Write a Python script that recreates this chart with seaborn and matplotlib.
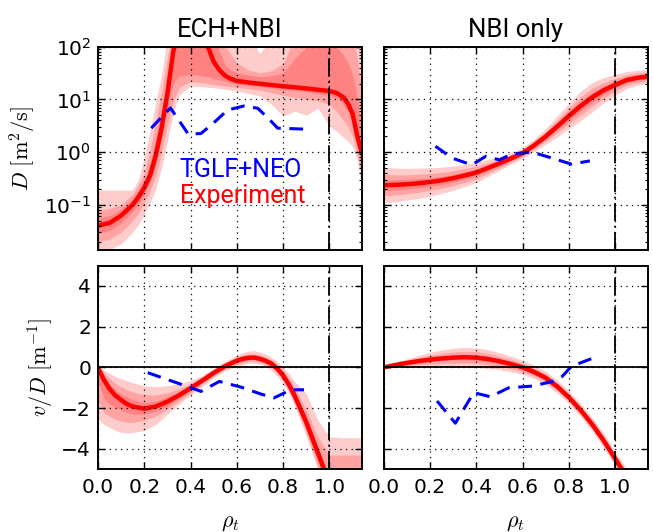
import numpy as np
import seaborn as sns
import matplotlib
matplotlib.use("Agg")
import matplotlib.pyplot as plt

# -----------------------------
# Data
# -----------------------------
sep_rho = 1.0

# ECH+NBI, diffusion (top left)
rho_ech = [0, 0.05, 0.1, 0.15, 0.175, 0.2, 0.225, 0.25, 0.275, 0.3, 0.325, 0.35,
           0.4, 0.45, 0.475, 0.5, 0.525, 0.55, 0.575, 0.6, 0.65, 0.7, 0.75, 0.8,
           0.85, 0.9, 0.95, 1.0, 1.03, 1.06, 1.08, 1.1, 1.12, 1.14]
D_ech = [0.040, 0.045, 0.062, 0.10, 0.14, 0.21, 0.36, 0.87, 2.9, 13, 79, 250,
         500, 250, 100, 52, 36, 28, 24.5, 22.5, 21, 19.8, 18.8, 17.8,
         17, 16.2, 15.3, 14.5, 13.3, 11, 8.3, 5.3, 2.0, 0.95]
D_ech_lo3 = [0.012, 0.014, 0.018, 0.03, 0.042, 0.066, 0.11, 0.2, 0.5, 1.6, 5.5, 12,
             18, 17.5, 17, 16.7, 16.2, 15.5, 15, 14.5, 13, 11.6, 8, 4.8,
             6, 5, 6.8, 3.1, 2.5, 1.9, 1.6, 1.27, 0.7, 0.21]
D_ech_lo2 = [0.020, 0.022, 0.03, 0.05, 0.07, 0.11, 0.18, 0.35, 1.0, 3.2, 9, 17,
             22, 21, 20, 19, 18.5, 18, 17.5, 17, 16, 15, 13.5, 12,
             11, 10, 9.5, 8, 6, 4, 3, 2, 0.9, 0.35]
D_ech_lo1 = [0.029, 0.032, 0.045, 0.075, 0.105, 0.16, 0.27, 0.6, 1.9, 7, 20, 28,
             30, 28, 27, 25, 23.5, 22, 20.5, 19.5, 18.5, 17.5, 16.5, 15.5,
             15, 14, 13, 12, 10.5, 8, 6, 3.5, 1.3, 0.6]
D_ech_hi1 = [0.055, 0.062, 0.082, 0.13, 0.19, 0.3, 0.6, 1.8, 6, 30, 150, 500,
             900, 600, 300, 150, 80, 45, 36, 32, 29, 27, 28, 32,
             60, 100, 130, 120, 100, 70, 50, 30, 10, 3]
D_ech_hi2 = [0.077, 0.085, 0.10, 0.16, 0.24, 0.4, 1.1, 4, 14, 60, 250, 800,
             1000, 1000, 800, 300, 150, 100, 70, 50, 36, 32, 35, 48,
             150, 200, 300, 300, 280, 230, 200, 150, 60, 15]
D_ech_hi3 = [0.19, 0.19, 0.19, 0.19, 0.3, 0.8, 2.5, 9, 30, 150, 1000, 1000,
             1000, 1000, 1000, 1000, 800, 500, 400, 300, 150, 75, 150, 300,
             500, 500, 500, 500, 500, 450, 400, 300, 200, 200]

rho_tglf_ech_D = [0.23, 0.313, 0.39, 0.445, 0.5, 0.56, 0.63, 0.69, 0.74, 0.776, 0.92]
D_tglf_ech = [2.85, 6.9, 2.2, 2.25, 3.6, 6.3, 7.5, 6.8, 4.2, 2.85, 2.7]

# common radial grid for the NBI panels
rho_b = [0, 0.025, 0.05, 0.1, 0.15, 0.2, 0.25, 0.3, 0.35, 0.4, 0.45, 0.5, 0.55,
         0.6, 0.65, 0.7, 0.75, 0.8, 0.85, 0.9, 0.95, 1.0, 1.05, 1.1, 1.14]

# NBI only, diffusion (top right); band half-widths in decades
D_nbi = [0.235, 0.236, 0.238, 0.245, 0.255, 0.27, 0.29, 0.32, 0.36, 0.41, 0.5, 0.61, 0.76,
         0.96, 1.35, 2.0, 3.1, 4.9, 7.5, 11, 15, 19, 23.5, 26, 27]
D_nbi_w3 = [0.33, 0.33, 0.32, 0.3, 0.29, 0.27, 0.25, 0.23, 0.21, 0.19, 0.16, 0.13, 0.11,
            0.1, 0.12, 0.15, 0.2, 0.24, 0.28, 0.28, 0.24, 0.2, 0.16, 0.14, 0.13]
D_nbi_w2 = [0.2, 0.2, 0.19, 0.18, 0.17, 0.16, 0.15, 0.14, 0.13, 0.12, 0.1, 0.08, 0.07,
            0.06, 0.07, 0.09, 0.12, 0.15, 0.17, 0.17, 0.15, 0.12, 0.1, 0.09, 0.08]
D_nbi_w1 = [0.1, 0.1, 0.1, 0.09, 0.09, 0.08, 0.08, 0.07, 0.07, 0.06, 0.05, 0.04, 0.04,
            0.03, 0.04, 0.05, 0.06, 0.08, 0.09, 0.09, 0.08, 0.06, 0.05, 0.05, 0.04]

rho_tglf_nbi_D = [0.223, 0.295, 0.38, 0.44, 0.5, 0.553, 0.64, 0.726, 0.81, 0.89]
D_tglf_nbi = [1.29, 0.77, 0.57, 0.83, 0.71, 0.92, 1.0, 0.77, 0.59, 0.68]

# ECH+NBI, v/D (bottom left)
rho_ech_v = [0, 0.01, 0.025, 0.05, 0.075, 0.1, 0.125, 0.15, 0.2, 0.25, 0.3, 0.35,
             0.4, 0.45, 0.5, 0.55, 0.6, 0.625, 0.65, 0.675, 0.7, 0.725, 0.75,
             0.775, 0.8, 0.825, 0.85, 0.9, 0.95, 1.0, 1.05, 1.1, 1.14]
vD_ech = [0, -0.25, -0.6, -1.05, -1.38, -1.6, -1.8, -1.92, -2.03, -1.92, -1.68, -1.37,
          -1.02, -0.65, -0.27, 0.07, 0.33, 0.42, 0.47, 0.48, 0.42, 0.32, 0.18,
          -0.07, -0.4, -0.85, -1.4, -2.7, -4.2, -5.7, -7, -8.2, -9]
vD_ech_lo3 = [-2.5, -2.65, -2.8, -2.95, -3.1, -3.2, -3.22, -3.2, -3.1, -2.8, -2.3, -1.8,
              -1.35, -0.95, -0.5, -0.15, 0.05, 0.13, 0.2, 0.2, 0.15, 0.05, -0.15,
              -0.45, -0.8, -1.3, -1.9, -3.4, -5.0, -6.5, -8, -9, -10]
vD_ech_hi3 = [0, -0.05, -0.12, -0.3, -0.45, -0.55, -0.65, -0.75, -0.9, -0.95, -0.9, -0.8,
              -0.65, -0.4, -0.05, 0.3, 0.6, 0.72, 0.8, 0.82, 0.75, 0.65, 0.5,
              0.28, 0.0, -0.3, -0.7, -1.3, -2.6, -3.4, -3.45, -3.45, -3.45]
vD_ech_lo2 = [-1.6, -1.9, -2.2, -2.4, -2.55, -2.65, -2.7, -2.7, -2.6, -2.4, -2.05, -1.65,
              -1.25, -0.82, -0.42, -0.08, 0.15, 0.23, 0.3, 0.3, 0.25, 0.14, -0.02,
              -0.3, -0.65, -1.15, -1.75, -3.2, -4.9, -6.4, -7.8, -8.8, -9.8]
vD_ech_hi2 = [0, -0.1, -0.25, -0.55, -0.78, -0.95, -1.1, -1.2, -1.35, -1.35, -1.25, -1.05,
              -0.8, -0.5, -0.12, 0.22, 0.5, 0.6, 0.66, 0.67, 0.62, 0.5, 0.37,
              0.13, -0.15, -0.55, -1.0, -2.1, -3.4, -4.3, -4.3, -4.3, -4.3]
vD_ech_lo1 = [-0.8, -1.0, -1.5, -1.8, -1.95, -2.1, -2.2, -2.3, -2.3, -2.15, -1.88, -1.52,
              -1.13, -0.73, -0.35, 0.0, 0.25, 0.33, 0.38, 0.39, 0.33, 0.23, 0.08,
              -0.17, -0.52, -1.0, -1.6, -3.0, -4.6, -6.1, -7.5, -8.7, -9.5]
vD_ech_hi1 = [0, -0.15, -0.4, -0.8, -1.1, -1.3, -1.45, -1.6, -1.75, -1.65, -1.45, -1.2,
              -0.9, -0.57, -0.2, 0.15, 0.42, 0.51, 0.57, 0.58, 0.52, 0.42, 0.28,
              0.03, -0.28, -0.7, -1.2, -2.4, -3.9, -5.3, -6.5, -7.7, -8.5]

rho_tglf_ech_v = [0.215, 0.417, 0.445, 0.524, 0.618, 0.704, 0.76, 0.833, 0.89]
vD_tglf_ech = [-0.26, -1.06, -1.18, -0.69, -0.97, -1.31, -1.5, -1.1, -1.1]

# NBI only, v/D (bottom right); band half-widths
vD_nbi = [0, 0.06, 0.12, 0.22, 0.31, 0.38, 0.44, 0.48, 0.5, 0.48, 0.41, 0.3, 0.16,
          0.0, -0.23, -0.52, -0.95, -1.48, -2.1, -2.8, -3.6, -4.5, -5.4, -6.3, -7.0]
vD_nbi_w3 = [0.02, 0.08, 0.12, 0.2, 0.28, 0.35, 0.42, 0.46, 0.48, 0.48, 0.46, 0.42, 0.38,
             0.35, 0.33, 0.32, 0.32, 0.32, 0.32, 0.33, 0.35, 0.37, 0.4, 0.42, 0.44]
vD_nbi_w2 = [0.01, 0.05, 0.07, 0.12, 0.17, 0.21, 0.25, 0.28, 0.29, 0.29, 0.28, 0.25, 0.23,
             0.21, 0.2, 0.19, 0.19, 0.19, 0.19, 0.2, 0.21, 0.22, 0.24, 0.25, 0.26]
vD_nbi_w1 = [0.0, 0.02, 0.03, 0.05, 0.07, 0.09, 0.11, 0.12, 0.13, 0.13, 0.12, 0.11, 0.1,
             0.09, 0.09, 0.08, 0.08, 0.08, 0.08, 0.09, 0.09, 0.1, 0.1, 0.11, 0.11]

rho_tglf_nbi_v = [0.23, 0.309, 0.388, 0.46, 0.54, 0.64, 0.726, 0.77, 0.81, 0.92]
vD_tglf_nbi = [-1.65, -2.74, -1.24, -1.44, -1.0, -0.92, -0.7, -0.45, 0.05, 0.53]

titles = ["ECH+NBI", "NBI only"]

# -----------------------------
# Style
# -----------------------------
sns.set_style("ticks")
plt.rcParams.update({
    "font.family": "DejaVu Sans",
    "mathtext.fontset": "cm",
    "text.color": "black",
    "axes.labelcolor": "black",
    "xtick.color": "black",
    "ytick.color": "black",
    "xtick.direction": "in",
    "ytick.direction": "in",
    "xtick.top": True,
    "ytick.right": True,
    "xtick.major.size": 5,
    "ytick.major.size": 5,
    "ytick.minor.size": 2.5,
    "xtick.major.width": 1,
    "ytick.major.width": 1,
    "ytick.minor.width": 0.8,
    "axes.linewidth": 1.4,
    "axes.edgecolor": "black",
    "xtick.labelsize": 14.5,
    "ytick.labelsize": 14.5,
    "xtick.major.pad": 6,
    "ytick.major.pad": 5,
})

fig, axes = plt.subplots(2, 2, figsize=(6.53, 5.32), dpi=100, sharex=True)
fig.subplots_adjust(left=0.150, right=0.992, top=0.912, bottom=0.118,
                    wspace=0.083, hspace=0.074)

band_kw = dict(color="red", alpha=0.2, lw=0)
line_kw = dict(color="red", lw=3.2)
tglf_kw = dict(color="blue", lw=2.2, dashes=(4.5, 2.8))


def draw_bands(ax, x, bands):
    for lo, hi in bands:
        ax.fill_between(x, lo, hi, **band_kw)


def log_band(vals, w):
    v = np.array(vals)
    return v * 10.0 ** (-np.array(w)), v * 10.0 ** np.array(w)


def lin_band(vals, w):
    v = np.array(vals)
    return v - np.array(w), v + np.array(w)


# top left
ax = axes[0, 0]
draw_bands(ax, rho_ech, [(D_ech_lo3, D_ech_hi3), (D_ech_lo2, D_ech_hi2), (D_ech_lo1, D_ech_hi1)])
sns.lineplot(x=rho_ech, y=D_ech, ax=ax, **line_kw)
sns.lineplot(x=rho_tglf_ech_D, y=D_tglf_ech, ax=ax, **tglf_kw)

# top right
ax = axes[0, 1]
draw_bands(ax, rho_b, [log_band(D_nbi, D_nbi_w3), log_band(D_nbi, D_nbi_w2), log_band(D_nbi, D_nbi_w1)])
sns.lineplot(x=rho_b, y=D_nbi, ax=ax, **line_kw)
sns.lineplot(x=rho_tglf_nbi_D, y=D_tglf_nbi, ax=ax, **tglf_kw)

# bottom left
ax = axes[1, 0]
draw_bands(ax, rho_ech_v, [(vD_ech_lo3, vD_ech_hi3), (vD_ech_lo2, vD_ech_hi2), (vD_ech_lo1, vD_ech_hi1)])
sns.lineplot(x=rho_ech_v, y=vD_ech, ax=ax, **line_kw)
sns.lineplot(x=rho_tglf_ech_v, y=vD_tglf_ech, ax=ax, **tglf_kw)

# bottom right
ax = axes[1, 1]
draw_bands(ax, rho_b, [lin_band(vD_nbi, vD_nbi_w3), lin_band(vD_nbi, vD_nbi_w2), lin_band(vD_nbi, vD_nbi_w1)])
sns.lineplot(x=rho_b, y=vD_nbi, ax=ax, **line_kw)
sns.lineplot(x=rho_tglf_nbi_v, y=vD_tglf_nbi, ax=ax, **tglf_kw)

# common decorations
for ax in axes.flat:
    ax.set_xlim(0, 1.14)
    ax.set_xticks([0.0, 0.2, 0.4, 0.6, 0.8, 1.0])
    ax.axvline(sep_rho, color="black", lw=1.3, linestyle=(0, (10, 2.5, 1, 2.5)))
    ax.grid(True, color="black", lw=0.9, linestyle=(0, (1, 3.5)))
    ax.set_axisbelow(False)
    ax.set_xlabel("")
    ax.set_ylabel("")

for j in range(2):
    top, bot = axes[0, j], axes[1, j]
    top.set_yscale("log")
    top.set_ylim(0.0135, 100)
    top.set_title(titles[j], fontsize=18.5, family="Roboto", pad=7)
    bot.set_ylim(-5, 5)
    bot.set_yticks([-4, -2, 0, 2, 4])
    bot.axhline(0, color="black", lw=1.3)
    bot.set_xlabel(r"$\rho_t$", fontsize=16, labelpad=12)
    top.tick_params(labelbottom=False)

axes[0, 1].tick_params(labelleft=False, which="both")
axes[1, 1].tick_params(labelleft=False)

axes[0, 0].set_ylabel(r"$D\ [\mathrm{m^2/s}]$", fontsize=16)
axes[1, 0].set_ylabel(r"$v/D\ [\mathrm{m^{-1}}]$", fontsize=16)

axes[0, 0].text(0.31, 0.363, "TGLF+NEO", color="blue", fontsize=18, family="Roboto",
                transform=axes[0, 0].transAxes, va="baseline")
axes[0, 0].text(0.31, 0.234, "Experiment", color="red", fontsize=18, family="Roboto",
                transform=axes[0, 0].transAxes, va="baseline")

plt.savefig("out.png", dpi=100)
